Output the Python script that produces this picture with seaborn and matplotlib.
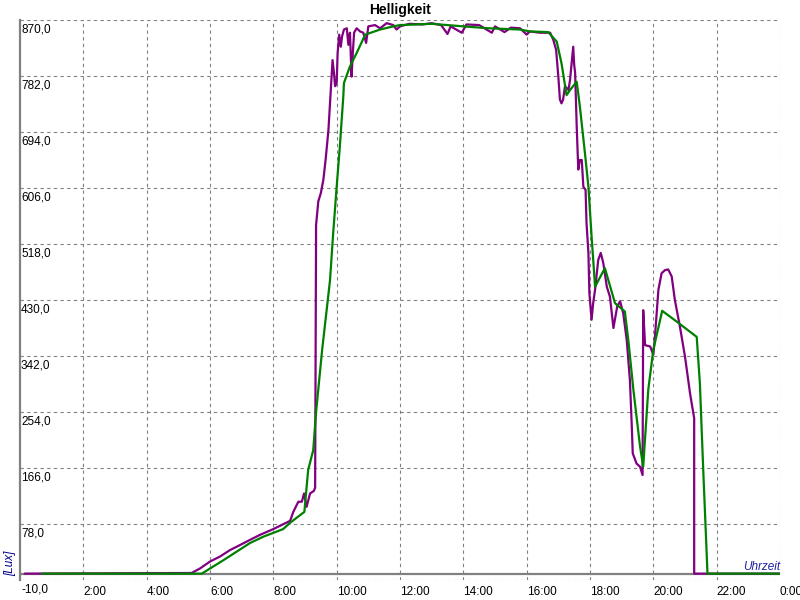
import matplotlib
matplotlib.use("Agg")
import matplotlib.pyplot as plt
import matplotlib.transforms as mtransforms
import seaborn as sns

# Stunden (0-24) und Helligkeit in Lux
lila_zeit = [0.15, 5.42, 5.68, 6.0, 6.32, 6.63, 6.95, 7.26, 7.58, 8.0, 8.53, 8.63, 8.79, 8.9,
             8.97, 9.05, 9.16, 9.28, 9.32, 9.35, 9.42, 9.5, 9.58, 9.65, 9.74, 9.79, 9.84, 9.87,
             9.92, 9.95, 10.0, 10.03, 10.08, 10.13, 10.17, 10.23, 10.32, 10.37, 10.42, 10.47,
             10.51, 10.55, 10.63, 10.74, 10.84, 10.93, 11.0, 11.21, 11.37, 11.58, 11.79, 11.89,
             12.0, 12.3, 12.7, 13.0, 13.3, 13.5, 13.6, 13.95, 14.1, 14.5, 14.9, 15.0, 15.3, 15.5,
             15.79, 16.0, 16.1, 16.42, 16.74, 16.84, 16.93, 17.0, 17.05, 17.1, 17.15, 17.21,
             17.32, 17.37, 17.42, 17.47, 17.5, 17.53, 17.58, 17.63, 17.68, 17.74, 17.79, 17.86,
             17.89, 17.95, 17.98, 18.05, 18.1, 18.16, 18.26, 18.34, 18.42, 18.53, 18.63, 18.74,
             18.86, 18.95, 19.05, 19.16, 19.26, 19.32, 19.35, 19.47, 19.58, 19.66, 19.68, 19.74,
             19.9, 20.0, 20.05, 20.16, 20.26, 20.37, 20.47, 20.58, 20.68, 20.84, 21.0, 21.16,
             21.29, 21.29, 24.0]
lila_lux = [0, 1, 8, 19, 27, 37, 45, 53, 61, 70, 83, 97, 113, 113,
            126, 105, 126, 130, 135, 548, 585, 598, 619, 650, 697, 739, 781, 807,
            784, 766, 771, 818, 847, 828, 844, 855, 857, 831, 850, 781,
            818, 850, 857, 852, 850, 834, 860, 862, 857, 865, 862, 855,
            860, 864, 863, 865, 862, 848, 860, 850, 863, 862, 850, 860, 851, 858,
            857, 847, 852, 850, 850, 839, 823, 781, 745, 739, 745, 766,
            760, 776, 802, 828, 800, 787, 703, 635, 650, 650, 608, 603,
            551, 504, 441, 399, 425, 446, 493, 504, 488, 451, 435, 386,
            420, 428, 409, 367, 304, 231, 189, 173, 168, 155, 414, 359,
            357, 344, 372, 446, 472, 477, 478, 467, 430, 388, 341, 283,
            244, 0, 0]

gruen_zeit = [0.7, 5.74, 6.42, 7.26, 7.68, 8.31, 8.53, 8.98, 9.1, 9.26, 9.35, 9.54, 9.79,
              9.89, 10.0, 10.1, 10.21, 10.23, 10.42, 10.63, 10.9, 11.37, 11.79, 12.0, 13.0,
              14.0, 14.8, 15.8, 16.1, 16.68, 16.95, 17.1, 17.26, 17.37, 17.58, 17.68, 17.84,
              17.95, 18.05, 18.16, 18.47, 18.79, 19.1, 19.21, 19.37, 19.58, 19.68, 19.84, 20.0,
              20.28, 20.74, 21.37, 21.47, 21.58, 21.68, 21.71, 24.0]
gruen_lux = [0, 0, 21, 48, 58, 70, 80, 97, 163, 194, 254, 351, 461,
             535, 608, 671, 750, 771, 797, 818, 847, 855, 860, 862, 864,
             860, 857, 855, 852, 851, 836, 802, 752, 760, 773, 734, 661,
             608, 530, 451, 480, 425, 412, 367, 289, 200, 168, 289, 352,
             413, 396, 372, 299, 158, 37, 0, 0]

y_ticks = [-10, 78, 166, 254, 342, 430, 518, 606, 694, 782, 870]
x_ticks = [2, 4, 6, 8, 10, 12, 14, 16, 18, 20, 22, 24]
x_labels = ["2:00", "4:00", "6:00", "8:00", "10:00", "12:00", "14:00", "16:00",
            "18:00", "20:00", "22:00", "0:00"]

sns.set_style("white")
plt.rcParams['font.family'] = ['Liberation Sans', 'DejaVu Sans']
plt.rcParams['text.color'] = 'black'
plt.rcParams['xtick.color'] = 'black'
plt.rcParams['ytick.color'] = 'black'

fig = plt.figure(figsize=(8, 6), dpi=100)
ax = fig.add_axes([20 / 800, 20 / 600, 760 / 800, 560 / 600])

ax.axhline(0, color="#808080", lw=1.6, zorder=1)
sns.lineplot(x=lila_zeit, y=lila_lux, color="#800080", lw=1.6, estimator=None, sort=False,
             ax=ax, zorder=3)
sns.lineplot(x=gruen_zeit, y=gruen_lux, color="#008000", lw=1.6, estimator=None, sort=False,
             ax=ax, zorder=4)

ax.set_xlim(0, 24)
ax.set_ylim(-10, 870)
ax.set_yticks(y_ticks)
ax.set_yticklabels([])
ax.set_xticks(x_ticks)
ax.set_xticklabels(x_labels, ha="left", fontsize=8.5, color="black")
ax.tick_params(axis="both", length=0)
ax.tick_params(axis="x", pad=4)
ax.grid(True, color="#808080", linestyle=(0, (3, 3)), lw=0.8)
ax.set_axisbelow(True)
for s in ["top", "right", "bottom"]:
    ax.spines[s].set_visible(False)
ax.spines["left"].set_color("#808080")
ax.spines["left"].set_linewidth(1.6)

# Y-Beschriftung innerhalb der Achse, unter der Gitterlinie
trans = mtransforms.blended_transform_factory(ax.transAxes, ax.transData)
off = mtransforms.ScaledTranslation(1 / 100, -3 / 100, fig.dpi_scale_trans)
for v in y_ticks:
    ax.text(0.0, v, f"{v:.1f}".replace(".", ","), transform=trans + off, ha="left", va="top",
            fontsize=8.5, color="black", clip_on=False)

ax.set_xlabel("")
ax.set_ylabel("")
ax.text(24, 1, "Uhrzeit", ha="right", va="bottom", style="italic", color="#2020A0", fontsize=8.5)
fig.text(10 / 800, 1 - 563 / 600, "[Lux]", rotation=90, ha="center", va="center",
         style="italic", color="#00008B", fontsize=8.5)
fig.text(0.5, 1 - 10 / 600, "Helligkeit", ha="center", va="center", fontweight="bold",
         fontsize=10, color="black")

fig.savefig("out.png", dpi=100)
